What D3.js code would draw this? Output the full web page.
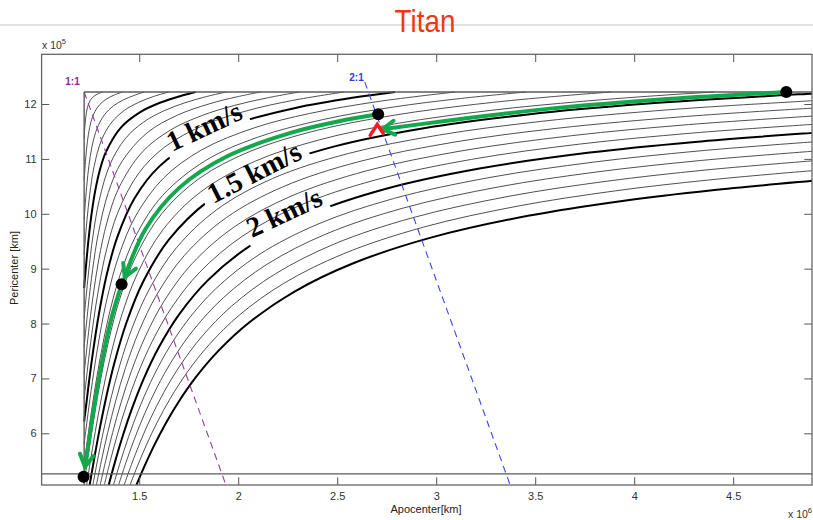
<!DOCTYPE html>
<html>
<head>
<meta charset="utf-8">
<script src="https://cdn.jsdelivr.net/npm/d3@7"></script>
<style>
  body { margin: 0; background: #fff; }
  text { font-family: "Liberation Sans", Arial, sans-serif; }
  text.speed { font-family: "Liberation Serif", "Times New Roman", serif; font-weight: bold; }
</style>
</head>
<body>
<div id="chart"></div>
<script>
// Titan orbit radius in axis units (apocenter x1e6 km, pericenter x1e5 km)
var titanRa = 1.22187, titanRp = 12.2187;

// v-infinity levels of the contours (km/s), thick every 0.5
var vinfLevels = [0.1,0.2,0.3,0.4,0.5,0.6,0.7,0.8,0.9,1.0,1.1,1.2,1.3,1.4,1.5,
                  1.6,1.7,1.8,1.9,2.0,2.1,2.2,2.3,2.4,2.5];

// contour points, [apocenter, pericenter] as fractions of Titan's orbit radius
var contourPoints = [
  [[1,.9305],[1.0028,.9472],[1.0070,.9630],[1.0134,.9766],[1.0235,.9865],[1.0373,.9927],[1.0534,.9966],[1.075,1]],
  [[1,.868],[1.0018,.8782],[1.0069,.9031],[1.0136,.9264],[1.0228,.9472],[1.0359,.9641],[1.0536,.9764],[1.0750,.9850],[1.099,.991],[1.1245,.9955],[1.158,1]],
  [[1,.8103],[1.0032,.8268],[1.0106,.8594],[1.0198,.8902],[1.0320,.9180],[1.0538,.9462],[1.0840,.9660],[1.1208,.9792],[1.1618,.9882],[1.2052,.9948],[1.2486,1]],
  [[1,.7571],[1.0040,.7760],[1.0116,.8084],[1.0230,.8470],[1.0411,.8889],[1.0717,.9283],[1.1147,.9553],[1.1672,.9728],[1.2254,.9846],[1.2867,.9933],[1.3494,1]],
  [[1,.7078],[1.0080,.7420],[1.0185,.7815],[1.0310,.8190],[1.0463,.8537],[1.0656,.8844],[1.0897,.9103],[1.1527,.9473],[1.2303,.9697],[1.3157,.9843],[1.4052,.9948],[1.4607,1]],
  [[1,.6625],[1.0076,.6924],[1.0184,.7316],[1.0360,.7840],[1.0620,.8380],[1.1075,.8925],[1.1697,.9303],[1.2450,.9550],[1.3283,.9717],[1.4161,.9839],[1.5067,.9933],[1.587,1]],
  [[1,.6198],[1.0065,.6435],[1.0175,.6825],[1.0350,.7350],[1.0594,.7906],[1.0999,.8501],[1.1546,.8954],[1.2607,.9393],[1.3847,.9653],[1.5176,.9824],[1.6275,.9925],[1.7287,1]],
  [[1,.5801],[1.0068,.6032],[1.0183,.6417],[1.0362,.6938],[1.0603,.7497],[1.0943,.8057],[1.1432,.8568],[1.2397,.9103],[1.3567,.9433],[1.4853,.9647],[1.6201,.9799],[1.7586,.9914],[1.8893,1]],
  [[1,.543],[1.0065,.5635],[1.0185,.6015],[1.0368,.6532],[1.0609,.7091],[1.0936,.7664],[1.1395,.8205],[1.2226,.8774],[1.3322,.9178],[1.4988,.9512],[1.6775,.9725],[1.8625,.9875],[2.0731,1]],
  [[1,.5083],[1.0067,.5283],[1.0193,.5657],[1.0369,.6131],[1.0610,.6690],[1.0930,.7270],[1.1367,.7833],[1.2084,.8416],[1.3109,.8891],[1.4706,.9294],[1.6451,.9549],[1.8737,.9763],[2.1086,.9914],[2.2852,1]],
  [[1,.4755],[1.0064,.4936],[1.0196,.5304],[1.0392,.5808],[1.0639,.6361],[1.0961,.6939],[1.1437,.7563],[1.2141,.8159],[1.3283,.8717],[1.4862,.9138],[1.7034,.9466],[1.9320,.9680],[2.2142,.9858],[2.533,1]],
  [[1,.4451],[1.0068,.4632],[1.0206,.4994],[1.0410,.5490],[1.0664,.6036],[1.0988,.6612],[1.1459,.7242],[1.2141,.7859],[1.3243,.8457],[1.5022,.8978],[1.7174,.9326],[1.9908,.9592],[2.2727,.9773],[2.5595,.9905],[2.8255,1]],
  [[1,.4164],[1.0067,.4333],[1.0212,.4688],[1.0423,.5177],[1.0683,.5717],[1.1011,.6289],[1.1478,.6922],[1.2145,.7555],[1.3212,.8188],[1.4783,.8717],[1.6882,.9118],[1.9576,.9424],[2.2844,.9656],[2.6183,.9817],[2.9078,.9922],[3.177,1]],
  [[1.0104,.4141],[1.0242,.4458],[1.0462,.4938],[1.0732,.5468],[1.1069,.6031],[1.1541,.6659],[1.2205,.7295],[1.3255,.7945],[1.4796,.8504],[1.7037,.8963],[1.9714,.9286],[2.2967,.9533],[2.6775,.9725],[3.0638,.9862],[3.4045,.9955],[3.605,1]],
  [[1.0228,.414],[1.0367,.4433],[1.0601,.4899],[1.0889,.5411],[1.1246,.5954],[1.1744,.6556],[1.2433,.7167],[1.3503,.7797],[1.5127,.8373],[1.7369,.8831],[2.0314,.9186],[2.4039,.9461],[2.8334,.9666],[3.3176,.9824],[4.0024,.9976],[4.012,.9978]],
  [[1.0361,.414],[1.0532,.4468],[1.0783,.4917],[1.1092,.5408],[1.1474,.5926],[1.2002,.6498],[1.2722,.7078],[1.3820,.7680],[1.5460,.8240],[1.7790,.8710],[2.0917,.9083],[2.4643,.9357],[2.8936,.9564],[3.4262,.9738],[4.0031,.9869],[4.012,.9871]],
  [[1.0508,.414],[1.0708,.4492],[1.0976,.4924],[1.1305,.5395],[1.1711,.5889],[1.2267,.6433],[1.3015,.6985],[1.4139,.7561],[1.5874,.8126],[1.8214,.8586],[2.1340,.8960],[2.5250,.9250],[2.9541,.9459],[3.4865,.9635],[4.0003,.9757],[4.012,.9759]],
  [[1.0662,.414],[1.0894,.4506],[1.1178,.4922],[1.1528,.5372],[1.1957,.5843],[1.2539,.6361],[1.3313,.6887],[1.4460,.7440],[1.6210,.7990],[1.8553,.8447],[2.1675,.8825],[2.5579,.9121],[3.0151,.9349],[3.4986,.9514],[4.0001,.9639],[4.012,.9642]],
  [[1.0833,.414],[1.1089,.4511],[1.1390,.4910],[1.1759,.5341],[1.2210,.5790],[1.2817,.6283],[1.3615,.6785],[1.4784,.7316],[1.6548,.7852],[1.8894,.8306],[2.2014,.8686],[2.6005,.8995],[3.0477,.9223],[3.5113,.9387],[4.0,.9515],[4.012,.9518]],
  [[1.1016,.414],[1.1293,.4507],[1.1611,.4889],[1.1999,.5301],[1.2470,.5730],[1.3100,.6200],[1.3920,.6680],[1.5109,.7191],[1.6886,.7714],[1.9324,.8176],[2.2446,.8554],[2.6341,.8859],[3.0903,.9097],[3.5244,.9256],[4.0,.9387],[4.012,.9390]],
  [[1.1213,.414],[1.1506,.4494],[1.1839,.4861],[1.2245,.5255],[1.2736,.5664],[1.3387,.6113],[1.4228,.6572],[1.5435,.7065],[1.7226,.7574],[1.9669,.8031],[2.2789,.8411],[2.6774,.8726],[3.1046,.8954],[3.5380,.9120],[4.0,.9253],[4.012,.9256]],
  [[1.1425,.414],[1.1727,.4474],[1.2076,.4824],[1.2499,.5201],[1.3008,.5592],[1.3679,.6021],[1.4539,.6461],[1.5764,.6936],[1.7567,.7433],[2.0015,.7885],[2.3227,.8273],[2.7116,.8584],[3.1192,.8808],[3.5520,.8980],[4.0,.9114],[4.012,.9118]],
  [[1.1654,.414],[1.1955,.4445],[1.2319,.4781],[1.2758,.5142],[1.3285,.5516],[1.3974,.5926],[1.4852,.6348],[1.6093,.6807],[1.7910,.7290],[2.0363,.7737],[2.3575,.8125],[2.7555,.8445],[3.1629,.8671],[3.5664,.8836],[4.0,.8971],[4.012,.8975]],
  [[1.1898,.414],[1.2190,.4410],[1.2568,.4732],[1.3023,.5077],[1.3566,.5434],[1.4273,.5827],[1.5167,.6233],[1.6424,.6676],[1.8253,.7147],[2.0713,.7587],[2.4016,.7984],[2.7903,.8297],[3.1973,.8527],[3.5812,.8688],[4.0001,.8824],[4.012,.8827]],
  [[1.2162,.414],[1.2486,.4414],[1.2880,.4720],[1.3354,.5047],[1.3915,.5385],[1.4642,.5758],[1.5557,.6143],[1.6834,.6566],[1.8679,.7021],[2.1150,.7450],[2.4368,.7832],[2.8346,.8154],[3.2320,.8380],[3.5964,.8536],[4.0,.8672],[4.012,.8676]]
];

var xTicks = [1.5, 2, 2.5, 3, 3.5, 4, 4.5];
var yTicks = [6, 7, 8, 9, 10, 11, 12];

// resonance lines [apocenter, pericenter] in axis units
var res11 = [[1.2219, 12.2187], [1.9379, 5.058]];
var res21 = [[2.6392, 12.40], [3.3734, 5.058]];
var floorRp = 5.26;

// trajectory legs drawn in green, axis units
var legA = [[4.768,12.219],[4.167,12.092],[3.574,11.916],[3.046,11.692],[2.728,11.54]];
var legB = [[2.707,11.812],[2.498,11.677],[2.273,11.482],[1.949,11.057],[1.702,10.472],[1.532,9.724],[1.427,8.848]];
var legC = [[1.411,8.715],[1.362,8.127],[1.324,7.528],[1.264,6.296],[1.239,5.689],[1.226,5.39]];
var dots = [[4.768,12.219],[2.707,11.812],[1.411,8.715],[1.219,5.209]];

var speedLabels = ["1 km/s", "1.5 km/s", "2 km/s"];
var speedLevels = [1.0, 1.5, 2.0];

var W = 813, H = 520;
var svg = d3.select("#chart").append("svg").attr("width", W).attr("height", H);

var x = d3.scaleLinear().domain([1.007, 4.898]).range([41.6, 812]);
var y = d3.scaleLinear().domain([5.058, 12.906]).range([485, 54.3]);

// header
svg.append("line").attr("x1", 0).attr("x2", W).attr("y1", 25).attr("y2", 25)
  .attr("stroke", "#d8d8d8").attr("stroke-width", 1.5);
svg.append("text").attr("transform", "translate(425,32) scale(0.87,1)")
  .attr("text-anchor", "middle").attr("font-size", 32).attr("fill", "#ec3a0e").text("Titan");

var defs = svg.append("defs");
defs.append("clipPath").attr("id", "plot").append("rect")
  .attr("x", 41.6).attr("y", 54.3).attr("width", 812 - 41.6).attr("height", 485 - 54.3);

var line = d3.line()
  .x(function(d) { return x(d[0] * titanRa); })
  .y(function(d) { return y(d[1] * titanRp); })
  .curve(d3.curveCatmullRom.alpha(0.5));

var lineKm = d3.line()
  .x(function(d) { return x(d[0]); })
  .y(function(d) { return y(d[1]); })
  .curve(d3.curveCatmullRom.alpha(0.5));

// label placement (axis units) and rotation
var labelAt = [[1.827, 11.60, -25], [2.079, 10.76, -27], [2.231, 10.03, -25]];

var g = svg.append("g").attr("clip-path", "url(#plot)");

// masks that cut a gap in the labelled contours
speedLabels.forEach(function(t, i) {
  var m = defs.append("mask").attr("id", "gap" + i).attr("maskUnits", "userSpaceOnUse")
    .attr("x", 0).attr("y", 0).attr("width", W).attr("height", H);
  m.append("rect").attr("width", W).attr("height", H).attr("fill", "#fff");
  var len = t.length * 13.5;
  m.append("rect")
    .attr("transform", "translate(" + x(labelAt[i][0]) + "," + y(labelAt[i][1]) + ") rotate(" + labelAt[i][2] + ")")
    .attr("x", -len / 2 - 4).attr("y", -16).attr("width", len + 8).attr("height", 34).attr("fill", "#000");
});

g.selectAll("path.contour")
  .data(contourPoints)
  .enter()
  .append("path")
    .attr("class", "contour")
    .attr("d", line)
    .attr("fill", "none")
    .attr("stroke", function(d, i) { return Math.round(vinfLevels[i] * 10) % 5 === 0 ? "#000" : "#3c3c3c"; })
    .attr("stroke-width", function(d, i) { return Math.round(vinfLevels[i] * 10) % 5 === 0 ? 2 : 0.9; })
    .attr("mask", function(d, i) {
      var k = speedLevels.indexOf(vinfLevels[i]);
      return k >= 0 ? "url(#gap" + k + ")" : null;
    });

// resonance lines
g.append("path").attr("d", lineKm(res11)).attr("stroke", "#9a3aa0").attr("stroke-width", 1.1)
  .attr("stroke-dasharray", "7,5").attr("fill", "none");
g.append("path").attr("d", lineKm(res21)).attr("stroke", "#3a46ee").attr("stroke-width", 1.1)
  .attr("stroke-dasharray", "7,5").attr("fill", "none");

// Titan orbit lines and lower limit
var frameColor = "#5a5a5a";
g.append("line").attr("x1", x(titanRa)).attr("x2", 812).attr("y1", y(titanRp)).attr("y2", y(titanRp))
  .attr("stroke", frameColor).attr("stroke-width", 1.4);
g.append("line").attr("x1", x(titanRa)).attr("x2", x(titanRa)).attr("y1", y(titanRp)).attr("y2", 485)
  .attr("stroke", frameColor).attr("stroke-width", 1.4);
g.append("line").attr("x1", 41.6).attr("x2", 812).attr("y1", y(floorRp)).attr("y2", y(floorRp))
  .attr("stroke", frameColor).attr("stroke-width", 1.4);

// axes
var tickLen = -7.7;
svg.append("g").attr("transform", "translate(0,485)")
  .call(d3.axisBottom(x).tickValues(xTicks).tickSizeInner(tickLen).tickSizeOuter(0).tickPadding(7).tickFormat(function(d) { return d; }));
svg.append("g").attr("transform", "translate(0,54.3)")
  .call(d3.axisTop(x).tickValues(xTicks).tickSizeInner(tickLen).tickSizeOuter(0).tickFormat(""));
svg.append("g").attr("transform", "translate(41.6,0)")
  .call(d3.axisLeft(y).tickValues(yTicks).tickSizeInner(tickLen).tickSizeOuter(0).tickPadding(5).tickFormat(function(d) { return d; }));
svg.append("g").attr("transform", "translate(812,0)")
  .call(d3.axisRight(y).tickValues(yTicks).tickSizeInner(tickLen).tickSizeOuter(0).tickFormat(""));
svg.selectAll(".domain").remove();
svg.selectAll(".tick line").attr("stroke", "#555");
svg.selectAll(".tick text").attr("font-size", 11).attr("fill", "#333");

svg.append("rect").attr("x", 41.6).attr("y", 54.3).attr("width", 812 - 41.6).attr("height", 485 - 54.3)
  .attr("fill", "none").attr("stroke", "#666").attr("stroke-width", 1.3);

// exponent labels and axis titles
var e5 = svg.append("text").attr("x", 42).attr("y", 49).attr("font-size", 10.5).attr("fill", "#333").text("x 10");
e5.append("tspan").attr("dy", -5).attr("font-size", 7.5).text("5");
var e6 = svg.append("text").attr("x", 788).attr("y", 518).attr("font-size", 10.5).attr("fill", "#333").text("x 10");
e6.append("tspan").attr("dy", -5).attr("font-size", 7.5).text("6");
svg.append("text").attr("x", 426).attr("y", 513).attr("text-anchor", "middle")
  .attr("font-size", 11).attr("fill", "#222").text("Apocenter[km]");
svg.append("text").attr("transform", "translate(18,268) rotate(-90)").attr("text-anchor", "middle")
  .attr("font-size", 11).attr("fill", "#222").text("Pericenter [km]");

// resonance tags
svg.append("text").attr("x", 72.5).attr("y", 84.5).attr("text-anchor", "middle").attr("font-size", 10)
  .attr("font-weight", "bold").attr("fill", "#8a2a8e").text("1:1");
svg.append("text").attr("x", 356.5).attr("y", 80.5).attr("text-anchor", "middle").attr("font-size", 10)
  .attr("font-weight", "bold").attr("fill", "#2a3ae0").text("2:1");

// speed labels
speedLabels.forEach(function(t, i) {
  svg.append("text")
    .attr("class", "speed")
    .attr("transform", "translate(" + x(labelAt[i][0]) + "," + y(labelAt[i][1]) + ") rotate(" + labelAt[i][2] + ")")
    .attr("text-anchor", "middle").attr("dy", "0.35em")
    .attr("font-size", 28.5).attr("fill", "#000").text(t);
});

// green trajectory with open arrow heads
var green = "#12a84e";
function arrowHead(pts) {
  var p1 = [x(pts[pts.length - 1][0]), y(pts[pts.length - 1][1])];
  var p0 = [x(pts[pts.length - 2][0]), y(pts[pts.length - 2][1])];
  var a = Math.atan2(p1[1] - p0[1], p1[0] - p0[0]);
  var L = 14, s = 0.52;
  var l = [p1[0] - L * Math.cos(a - s), p1[1] - L * Math.sin(a - s)];
  var r = [p1[0] - L * Math.cos(a + s), p1[1] - L * Math.sin(a + s)];
  return "M" + l + "L" + p1 + "L" + r;
}
[legA, legB, legC].forEach(function(leg) {
  svg.append("path").attr("d", lineKm(leg)).attr("fill", "none").attr("stroke", green)
    .attr("stroke-width", 4).attr("stroke-linecap", "round");
  svg.append("path").attr("d", arrowHead(leg)).attr("fill", "none").attr("stroke", green)
    .attr("stroke-width", 4).attr("stroke-linecap", "round").attr("stroke-linejoin", "miter");
});

// red manoeuvre mark under the second dot
var d2 = [x(dots[1][0]), y(dots[1][1])];
svg.append("path")
  .attr("d", "M" + (d2[0] - 8) + "," + (d2[1] + 21) + "L" + (d2[0] - 1) + "," + (d2[1] + 10) + "L" + (d2[0] + 5) + "," + (d2[1] + 19))
  .attr("fill", "none").attr("stroke", "#ff1a1a").attr("stroke-width", 3.5).attr("stroke-linecap", "round");

svg.selectAll("circle.dot")
  .data(dots)
  .enter()
  .append("circle")
    .attr("class", "dot")
    .attr("cx", function(d) { return x(d[0]); })
    .attr("cy", function(d) { return y(d[1]); })
    .attr("r", 6)
    .attr("fill", "#000");
</script>
</body>
</html>
